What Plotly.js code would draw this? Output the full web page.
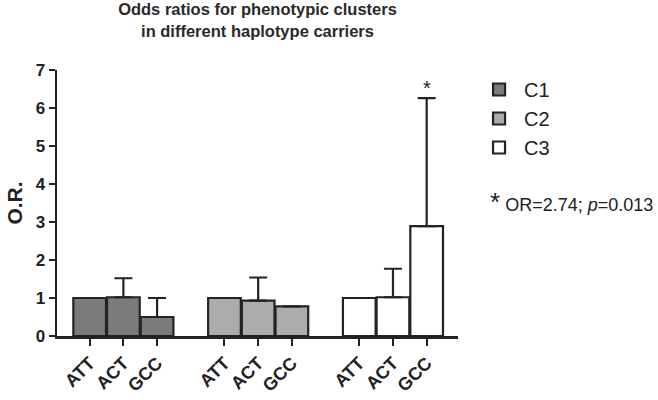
<!DOCTYPE html>
<html><head><meta charset="utf-8">
<script src="https://cdn.plot.ly/plotly-3.0.1.min.js"></script>
<style>html,body{margin:0;padding:0;background:#fff}#chart{width:658px;height:400px}</style>
</head><body><div id="chart"></div>
<script>
const haplotypes = ["ATT", "ACT", "GCC"];
const clusters = ["C1", "C2", "C3"];
const c1Values = [1.0, 1.02, 0.5];
const c1Upper  = [1.0, 1.52, 1.0];
const c2Values = [1.0, 0.93, 0.78];
const c2Upper  = [1.0, 1.54, 0.78];
const c3Values = [1.0, 1.02, 2.89];
const c3Upper  = [1.0, 1.77, 6.26];
const fillColors = ["#7b7b7d", "#abacae", "#ffffff"];
const noteText = "OR=2.74; <i>p</i>=0.013";

const FONT = "Liberation Sans, Arial, sans-serif";
const values = [c1Values, c2Values, c3Values];
const uppers = [c1Upper, c2Upper, c3Upper];

const catArray = [];
clusters.forEach((c, i) => {
  haplotypes.forEach(h => catArray.push(c + " " + h));
  if (i < clusters.length - 1) catArray.push("gap" + i);
});
const tickVals = [], tickText = [];
clusters.forEach(c => haplotypes.forEach(h => { tickVals.push(c + " " + h); tickText.push(h); }));

const traces = clusters.map((c, i) => ({
  type: "bar",
  name: c,
  x: haplotypes.map(h => c + " " + h),
  y: values[i],
  width: 0.97,
  marker: {color: fillColors[i], line: {color: "#232323", width: 2.2}},
  error_y: {
    type: "data", symmetric: false,
    array: uppers[i].map((u, k) => Math.max(0, u - values[i][k])),
    arrayminus: values[i].map(() => 0),
    color: "#232323", thickness: 2.2, width: 9,
    visible: true
  }
}));

const layout = {
  width: 658, height: 400,
  margin: {l: 57, r: 200, t: 70, b: 64},
  paper_bgcolor: "#fff", plot_bgcolor: "#fff",
  barmode: "overlay",
  showlegend: true,
  font: {family: FONT, color: "#222"},
  title: {
    text: "<b>Odds ratios for phenotypic clusters<br>in different haplotype carriers</b>",
    font: {family: FONT, size: 16.5, color: "#2a2a2a"},
    x: 0.5, xref: "paper", yref: "container", y: 0.962, yanchor: "middle"
  },
  xaxis: {
    type: "category", categoryorder: "array", categoryarray: catArray,
    range: [-0.97, catArray.length - 1 + 0.93],
    tickvals: tickVals, ticktext: tickText, tickangle: -45,
    ticks: "outside", ticklen: 7, tickwidth: 2, tickcolor: "#232323",
    showline: true, linecolor: "#232323", linewidth: 2.5,
    showgrid: false, zeroline: false,
    tickfont: {family: FONT, size: 18, color: "#222", weight: "bold"}
  },
  yaxis: {
    range: [0, 7], dtick: 1, tick0: 0,
    ticks: "outside", ticklen: 6, tickwidth: 2, tickcolor: "#232323",
    showline: true, linecolor: "#232323", linewidth: 2.5,
    showgrid: false, zeroline: false,
    tickfont: {family: FONT, size: 17, color: "#222", weight: "bold"},
    title: {text: "<b>O.R.</b>", font: {family: FONT, size: 21, color: "#222"}, standoff: 8}
  },
  legend: {
    x: 1.04, xanchor: "left", y: 1.0, yanchor: "top",
    font: {family: FONT, size: 20, color: "#222"},
    tracegroupgap: 11, itemwidth: 40,
    bgcolor: "rgba(0,0,0,0)"
  },
  annotations: [
    {x: "C3 GCC", y: c3Upper[2], xref: "x", yref: "y", text: "*", showarrow: false,
     yanchor: "bottom", yshift: -3, font: {family: FONT, size: 20, color: "#222"}},
    {x: 1.075, xref: "paper", y: 0.505, yref: "paper", xanchor: "left", yanchor: "middle",
     showarrow: false, align: "left",
     text: "<span style='font-size:26px'>*</span> " + noteText,
     font: {family: FONT, size: 18, color: "#222"}}
  ]
};

Plotly.newPlot("chart", traces, layout, {displayModeBar: false, staticPlot: true});
</script></body></html>
